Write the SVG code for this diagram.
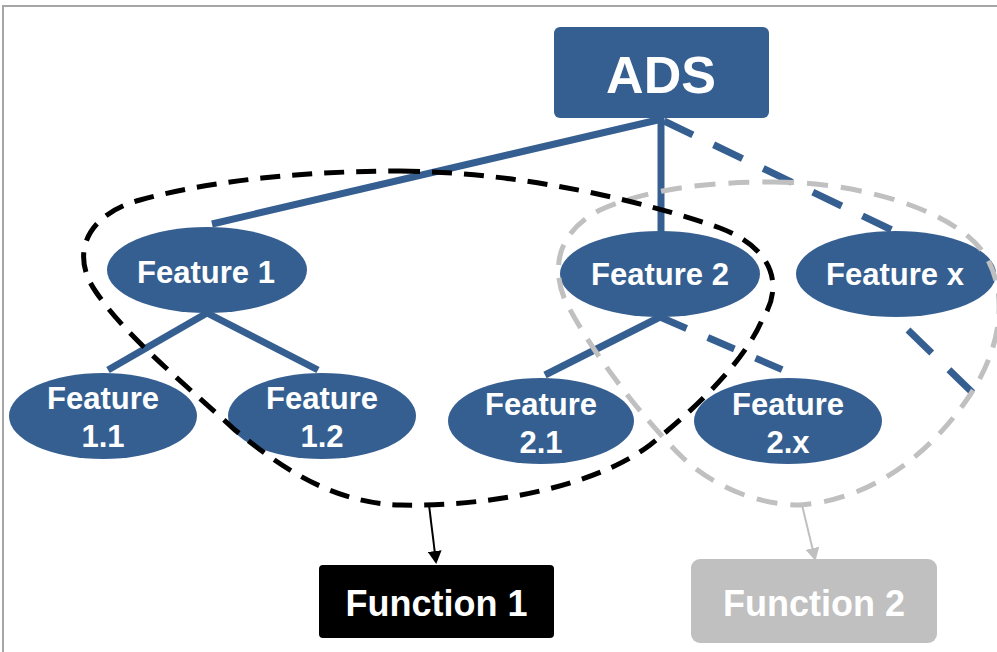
<svg xmlns="http://www.w3.org/2000/svg" width="997" height="652" viewBox="0 0 997 652">
<defs>
<style>
.node{fill:#365F91}
.lbl{font-family:"Liberation Sans",Arial,sans-serif;font-weight:bold;fill:#fff;text-anchor:middle}
.f{font-size:31px}
.solid{stroke:#365F91;stroke-width:7;fill:none}
.dash{stroke:#365F91;stroke-width:7;fill:none;stroke-dasharray:32 23}
.loop1{stroke:#000;stroke-width:5;fill:none;stroke-dasharray:20 12}
.loop2{stroke:#c0c0c0;stroke-width:5;fill:none;stroke-dasharray:21 13}
</style>
<marker id="ahB" markerWidth="13" markerHeight="14" refX="11" refY="7" orient="auto" markerUnits="userSpaceOnUse">
<path d="M0,0 L13,7 L0,14 Z" fill="#000"/>
</marker>
<marker id="ahG" markerWidth="13" markerHeight="14" refX="11" refY="7" orient="auto" markerUnits="userSpaceOnUse">
<path d="M0,0 L13,7 L0,14 Z" fill="#c0c0c0"/>
</marker>
</defs>
<rect x="0" y="0" width="997" height="652" fill="#fff"/>
<rect x="3" y="6" width="1000" height="660" fill="none" stroke="#a6a6a6" stroke-width="2"/>

<g id="connectors">
<line class="solid" x1="662" y1="119" x2="212" y2="224"/>
<line class="solid" x1="661" y1="118" x2="661" y2="232"/>
<line class="dash" x1="664" y1="121" x2="896" y2="232"/>
<line class="solid" x1="207" y1="313" x2="108" y2="370"/>
<line class="solid" x1="207" y1="313" x2="318" y2="370"/>
<line class="solid" x1="660" y1="317" x2="545" y2="375"/>
<line class="dash" x1="660" y1="317" x2="790" y2="373" style="stroke-dasharray:29 23"/>
<line class="dash" x1="908" y1="330" x2="974" y2="394" style="stroke-dasharray:33 24"/>
</g>

<g id="ADS">
<rect class="node" x="554" y="27" width="215" height="91" rx="6"/>
<text class="lbl" x="661" y="93" font-size="52">ADS</text>
</g>
<g id="feature1">
<ellipse class="node" cx="207" cy="270" rx="100" ry="43"/>
<text class="lbl f" x="206" y="283">Feature 1</text>
</g>
<g id="feature2">
<ellipse class="node" cx="660" cy="274" rx="100" ry="43"/>
<text class="lbl f" x="660" y="285">Feature 2</text>
</g>
<g id="featurex">
<ellipse class="node" cx="896" cy="274" rx="100" ry="43"/>
<text class="lbl f" x="895" y="285">Feature x</text>
</g>
<g id="feature11">
<ellipse class="node" cx="103" cy="416" rx="94" ry="43"/>
<text class="lbl f" x="103" y="409">Feature</text>
<text class="lbl f" x="103" y="447">1.1</text>
</g>
<g id="feature12">
<ellipse class="node" cx="322" cy="416" rx="94" ry="43"/>
<text class="lbl f" x="322" y="409">Feature</text>
<text class="lbl f" x="322" y="447">1.2</text>
</g>
<g id="feature21">
<ellipse class="node" cx="541" cy="421" rx="93" ry="43"/>
<text class="lbl f" x="541" y="415">Feature</text>
<text class="lbl f" x="541" y="453">2.1</text>
</g>
<g id="feature2x">
<ellipse class="node" cx="788" cy="421" rx="94" ry="43"/>
<text class="lbl f" x="788" y="415">Feature</text>
<text class="lbl f" x="788" y="453">2.x</text>
</g>

<g id="groups">
<path class="loop2" d="M773,182 C870,182 960,215 985,255 C1010,295 1000,350 970,395 C930,455 870,500 800,505 C750,505 705,480 680,455 C640,415 590,350 565,300 C550,265 560,230 600,210 C650,188 710,182 773,182 Z"/>
<path class="loop1" d="M400,171 C520,172 640,200 720,228 C778,250 782,290 762,320 C745,360 700,405 650,445 C590,490 480,507 400,505 C330,503 278,465 235,430 C180,380 125,335 96,292 C70,255 85,215 140,200 C220,178 320,171 400,171 Z"/>
</g>

<g id="arrows">
<line x1="429" y1="505" x2="436" y2="562" stroke="#000" stroke-width="2" marker-end="url(#ahB)"/>
<line x1="802" y1="505" x2="815" y2="559" stroke="#c0c0c0" stroke-width="2" marker-end="url(#ahG)"/>
</g>

<g id="function1">
<rect x="319" y="565" width="235" height="73" rx="4" fill="#000"/>
<text class="lbl" x="436.5" y="616" font-size="36">Function 1</text>
</g>
<g id="function2">
<rect x="691" y="559" width="246" height="84" rx="9" fill="#c0c0c0"/>
<text class="lbl" x="814" y="616" font-size="36">Function 2</text>
</g>
</svg>
